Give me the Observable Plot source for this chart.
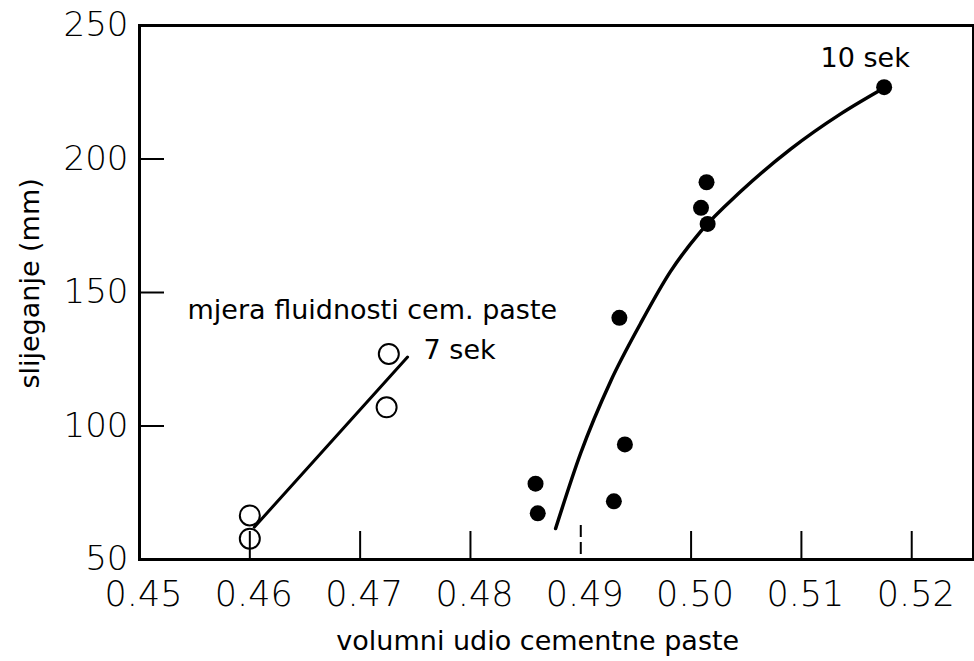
<!DOCTYPE html>
<html>
<head>
<meta charset="utf-8">
<script src="https://cdn.jsdelivr.net/npm/d3@7"></script>
<script src="https://cdn.jsdelivr.net/npm/@observablehq/plot@0.6"></script>
<style>
  html, body { margin: 0; padding: 0; background: #fff; }
</style>
</head>
<body>
<div id="chart"></div>
<script>
// Open circles (7 sek series)
const openX = [0.4600, 0.4600, 0.4724, 0.4726];
const openY = [57.8, 66.5, 107.0, 127.0];
// Straight fit line through open circles
const lineX = [0.4604, 0.4743];
const lineY = [62.1, 125.8];
// Filled dots (10 sek series)
const filledX = [0.4859, 0.4861, 0.4930, 0.4940, 0.4935, 0.5009, 0.5014, 0.5015, 0.5175];
const filledY = [78.4, 67.3, 71.8, 93.1, 140.5, 181.7, 191.3, 175.7, 226.9];
// Curved fit through filled dots
const curveX = [0.48772, 0.48998, 0.49270, 0.49542, 0.49814, 0.50086, 0.50449, 0.50902, 0.51356, 0.51745];
const curveY = [61.6, 89.7, 116.7, 138.4, 157.9, 172.8, 187.8, 203.7, 216.9, 226.5];
// Tick values
const xTickLabels = [0.45, 0.46, 0.47, 0.48, 0.49, 0.50, 0.51, 0.52];
const xInnerTicks = [0.46, 0.47, 0.48, 0.50, 0.51, 0.52];
const xDashedTicks = [0.49];
const yTickLabels = [50, 100, 150, 200, 250];
const yInnerTicks = [100, 150, 200];
// Annotations
const noteText = ["mjera fluidnosti cem. paste", "7 sek", "10 sek"];
const noteX = [0.45435, 0.47575, 0.51174];
const noteY = [143.3, 128.4, 237.6];
const xTitle = "volumni udio cementne paste";
const yTitle = "slijeganje (mm)";

const W = 974, H = 661;
const mL = 139, mR = 1, mT = 25, mB = 102;
const frameW = W - mL - mR, frameH = H - mT - mB;

const open = openX.map((x, i) => ({x, y: openY[i]}));
const line = lineX.map((x, i) => ({x, y: lineY[i]}));
const filled = filledX.map((x, i) => ({x, y: filledY[i]}));
const curve = curveX.map((x, i) => ({x, y: curveY[i]}));
const notes = noteText.map((t, i) => ({t, x: noteX[i], y: noteY[i]}));

const chart = Plot.plot({
  width: W,
  height: H,
  marginLeft: mL,
  marginRight: mR,
  marginTop: mT,
  marginBottom: mB,
  style: {fontFamily: "DejaVu Sans", background: "#fff", color: "#000"},
  x: {domain: [0.45, 0.5256]},
  y: {domain: [50, 250]},
  marks: [
    Plot.axisY({ticks: yTickLabels, tickSize: 0, tickPadding: 11, fontSize: 34, fontWeight: 300, label: null, tickFormat: d => String(d)}),
    Plot.axisX({ticks: xTickLabels, tickSize: 0, tickPadding: 22, fontSize: 35, fontWeight: 300, label: null, dx: 4, tickFormat: d3.format(".2f")}),
    Plot.tickY(yInnerTicks, {y: d => d, insetRight: frameW - 25, stroke: "#000", strokeWidth: 2}),
    Plot.tickX(xInnerTicks, {x: d => d, insetTop: frameH - 28, stroke: "#000", strokeWidth: 2}),
    Plot.tickX(xDashedTicks, {x: d => d, insetTop: frameH - 34, stroke: "#000", strokeWidth: 2, strokeDasharray: "12,5"}),
    Plot.line(line, {x: "x", y: "y", stroke: "#000", strokeWidth: 3}),
    Plot.line(curve, {x: "x", y: "y", stroke: "#000", strokeWidth: 3.5, curve: "monotone-x"}),
    Plot.dot(open, {x: "x", y: "y", r: 10, stroke: "#000", strokeWidth: 2, fill: "none"}),
    Plot.dot(filled, {x: "x", y: "y", r: 8, fill: "#000", stroke: "none"}),
    Plot.text(notes, {x: "x", y: "y", text: "t", textAnchor: "start", lineAnchor: "middle", fontSize: 27, fill: "#000"}),
    Plot.text([xTitle], {x: () => 0.4861, text: d => d, frameAnchor: "bottom", dy: 82, textAnchor: "middle", lineAnchor: "middle", fontSize: 27, fill: "#000"}),
    Plot.text([yTitle], {y: () => 153.4, text: d => d, frameAnchor: "left", dx: -109, rotate: -90, textAnchor: "middle", lineAnchor: "middle", fontSize: 27, fill: "#000"}),
    Plot.frame({stroke: "#000", strokeWidth: 3})
  ]
});
document.getElementById("chart").appendChild(chart);
</script>
</body>
</html>
